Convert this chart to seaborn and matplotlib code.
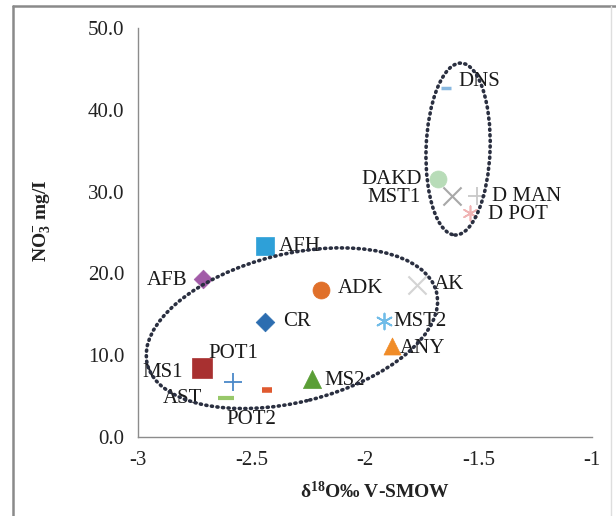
import numpy as np
import pandas as pd
import matplotlib
matplotlib.use("Agg")
import matplotlib.pyplot as plt
import seaborn as sns
from matplotlib.patches import Ellipse
from matplotlib.lines import Line2D

# ---------------- data ----------------
sites = ["DNS", "DAKD", "MST1", "D MAN", "D POT", "AFH", "AFB", "ADK", "AK",
         "CR", "MST2", "ANY", "MS1", "POT1", "POT2", "MS2", "AST"]
d18O = [-1.643, -1.678, -1.617, -1.507, -1.537, -2.440, -2.714, -2.194, -1.771,
        -2.440, -1.916, -1.881, -2.718, -2.581, -2.432, -2.233, -2.612]
no3 = [42.7, 31.5, 29.5, 29.5, 27.4, 23.3, 19.3, 18.0, 18.6,
       14.1, 14.2, 11.1, 8.4, 6.7, 5.75, 7.1, 4.77]
x_ticks = [-3, -2.5, -2, -1.5, -1]
x_tick_labels = ["-3", "-2.5", "-2", "-1.5", "-1"]
y_ticks = [0, 10, 20, 30, 40, 50]
y_tick_labels = ["0.0", "10.0", "20.0", "30.0", "40.0", "50.0"]

# ---------------- styles ----------------
markers = {"DNS": "_", "DAKD": "o", "MST1": "x", "D MAN": "+", "D POT": (6, 2, 0),
           "AFH": "s", "AFB": "D", "ADK": "o", "AK": "x", "CR": "D", "MST2": (6, 2, 0),
           "ANY": "^", "MS1": "s", "POT1": "+", "POT2": "_", "MS2": "^", "AST": "_"}
colors = {"DNS": "#88b8e0", "DAKD": "#b8dcb8", "MST1": "#a8a8a8", "D MAN": "#c8c8c8",
          "D POT": "#f0b4b4", "AFH": "#2ea0d8", "AFB": "#a25ba8", "ADK": "#e0702a",
          "AK": "#d4d4d4", "CR": "#2c6db0", "MST2": "#70bce8", "ANY": "#f08c28",
          "MS1": "#a83030", "POT1": "#4a88c8", "POT2": "#e05a30", "MS2": "#5a9e36",
          "AST": "#98c86a"}
sizes = {"DNS": 60, "DAKD": 150, "MST1": 170, "D MAN": 170, "D POT": 110,
         "AFH": 150, "AFB": 90, "ADK": 150, "AK": 170, "CR": 90, "MST2": 130,
         "ANY": 150, "MS1": 190, "POT1": 150, "POT2": 50, "MS2": 170, "AST": 130}
lws = {"DNS": 2.5, "MST1": 1.5, "D MAN": 1.3, "D POT": 1.2, "AK": 1.5, "MST2": 1.3,
       "POT1": 1.3, "POT2": 4.0, "AST": 3.0}
# label placement: (dx px, dy px, ha)
label_pos = {"DNS": (12, 6, "left"), "DAKD": (-16, 0, "right"), "MST1": (-31, -2, "right"),
             "D MAN": (15, -1, "left"), "D POT": (18, -2, "left"), "AFH": (14, 0, "left"),
             "AFB": (-16, -1, "right"), "ADK": (17, 1, "left"), "AK": (17, 0, "left"),
             "CR": (18, 0, "left"), "MST2": (9, -1, "left"), "ANY": (8, -2, "left"),
             "MS1": (-19, -4, "right"), "POT1": (0, 29, "center"), "POT2": (-16, -30, "center"),
             "MS2": (12, -2, "left"), "AST": (-24, -1, "right")}

df = pd.DataFrame({"site": sites, "d18O": d18O, "NO3": no3})

sns.set_theme(style="white")
plt.rcParams["font.family"] = ["Liberation Serif", "DejaVu Serif"]
plt.rcParams["mathtext.fontset"] = "custom"
plt.rcParams["mathtext.rm"] = "Liberation Serif"
plt.rcParams["mathtext.bf"] = "Liberation Serif:bold"
plt.rcParams["mathtext.default"] = "regular"

W, H = 616, 516
fig = plt.figure(figsize=(W / 100, H / 100), dpi=100)
fig.patch.set_facecolor("white")
ax = fig.add_axes([138 / W, 1 - 437 / H, (592 - 138) / W, (437 - 28) / H])
ax.set_facecolor("white")

for _, r in df.iterrows():
    s = r["site"]
    m = markers[s]
    c = colors[s]
    filled = m in ("o", "s", "D", "^")
    kw = dict(marker=m, s=sizes[s], ax=ax, legend=False, zorder=3)
    if filled:
        kw.update(color=c, edgecolor=c, linewidth=0.5)
    else:
        kw.update(color=c, linewidth=lws.get(s, 1.3))
    sns.scatterplot(data=df[df["site"] == s], x="d18O", y="NO3", **kw)

ax.set_xlim(-3, -1)
ax.set_ylim(0, 50)
ax.set_xticks(x_ticks)
ax.set_xticklabels(x_tick_labels)
ax.set_yticks(y_ticks)
ax.set_yticklabels(y_tick_labels)

for sp in ["top", "right"]:
    ax.spines[sp].set_visible(False)
for sp in ["left", "bottom"]:
    ax.spines[sp].set_color("#8c8c8c")
    ax.spines[sp].set_linewidth(1.0)
ax.tick_params(axis="both", direction="out", length=6, width=1, color="#8c8c8c",
               labelsize=15, labelcolor="#222222", pad=4)

ax.set_xlabel(r"δ$^{18}$O‰ V-SMOW", fontsize=14, fontweight="bold", color="#222222")
ax.set_ylabel(r"NO$_3^{-}$ mg/I", fontsize=14, fontweight="bold", color="#222222")
ax.xaxis.set_label_coords(0.522, -0.108)
ax.yaxis.set_label_coords(-0.187, 0.528)

for _, r in df.iterrows():
    s = r["site"]
    dx, dy, ha = label_pos[s]
    ax.annotate(s, (r["d18O"], r["NO3"]), xytext=(dx, dy), textcoords="offset pixels",
                ha=ha, va="center", fontsize=15, color="#1a1a1a", zorder=4)

# dotted grouping ellipses (drawn in display pixels, centred in data coords)
fig.canvas.draw()
dotted = dict(fill=False, edgecolor="#2a2f40", linewidth=2.6,
              linestyle=(0, (0.3, 1.25)), capstyle="round", zorder=2)
for (cx, cy, w_px, h_px, ang) in [(-1.590, 35.2, 64, 172, -2),
                                  (-2.322, 13.3, 298, 148, 14)]:
    px, py = ax.transData.transform((cx, cy))
    e = Ellipse((px, py), w_px, h_px, angle=ang, transform=None, **dotted)
    e.set_clip_on(False)
    fig.add_artist(e)

# outer frame lines
fig.add_artist(Line2D([13 / W, 13 / W], [0, 1 - 6 / H], color="#8a8a8a", linewidth=1.8,
                      transform=fig.transFigure))
fig.add_artist(Line2D([13 / W, 1], [1 - 6 / H, 1 - 6 / H], color="#8a8a8a", linewidth=1.8,
                      transform=fig.transFigure))
fig.add_artist(Line2D([611 / W, 611 / W], [0, 1 - 6 / H], color="#dedede", linewidth=1.0,
                      transform=fig.transFigure))

fig.savefig("out.png", dpi=100, facecolor="white")
